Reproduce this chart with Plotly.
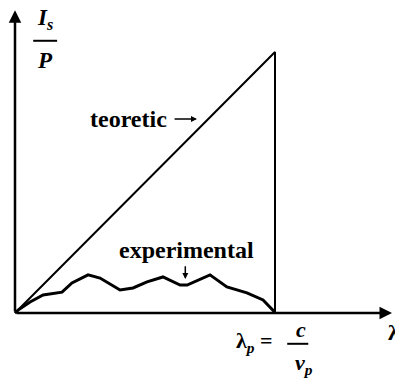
import plotly.graph_objects as go

# Normalised wavelength (lambda / lambda_p) and normalised intensity (I_s / P)
theory_x = [0.0, 1.0, 1.0]
theory_y = [0.0, 1.0, 0.0]

exp_x = [0.0, 0.012, 0.058, 0.108, 0.181, 0.219, 0.281, 0.327, 0.404, 0.454,
         0.508, 0.569, 0.635, 0.662, 0.750, 0.815, 0.892, 0.954, 0.992, 1.0]
exp_y = [0.0, 0.011, 0.042, 0.069, 0.080, 0.115, 0.146, 0.134, 0.088, 0.096,
         0.119, 0.138, 0.107, 0.107, 0.146, 0.100, 0.077, 0.050, 0.011, 0.0]

X_MAX = 1.45
Y_MAX = 1.16

FONT = "Liberation Serif"
ink = "black"

fig = go.Figure()
fig.add_trace(go.Scatter(x=theory_x, y=theory_y, mode="lines",
                         line=dict(color=ink, width=2), hoverinfo="skip"))
fig.add_trace(go.Scatter(x=exp_x, y=exp_y, mode="lines",
                         line=dict(color=ink, width=3), hoverinfo="skip"))


def arrow(x0, y0, x1, y1, width=2.5, size=1.0):
    return dict(x=x1, y=y1, ax=x0, ay=y0, xref="x", yref="y", axref="x", ayref="y",
                showarrow=True, arrowhead=2, arrowsize=size, arrowwidth=width,
                arrowcolor=ink, text="")


def label(x, y, text, size=24, **kw):
    return dict(x=x, y=y, xref="x", yref="y", showarrow=False, text=text,
                font=dict(family=FONT, size=size, color=ink), **kw)


ann = [
    # axes
    arrow(0, 0, X_MAX, 0),
    arrow(0, 0, 0, Y_MAX),
    # axis titles
    label(0.115, 1.125, "<b><i>I<sub>s</sub></i></b>", size=23),
    label(0.115, 0.968, "<b><i>P</i></b>", size=23),
    label(1.425, -0.075, "<b>\u03bb</b>", size=22, xanchor="left"),
    # curve labels
    label(0.438, 0.745, "<b>teoretic</b>"),
    arrow(0.608, 0.743, 0.70, 0.743, width=1.5, size=0.8),
    label(0.66, 0.241, "<b>experimental</b>"),
    arrow(0.655, 0.185, 0.655, 0.13, width=1.5, size=0.8),
    # lambda_p = c / nu_p
    label(0.92, -0.11, "<b>\u03bb<sub><i>p</i></sub> =</b>", size=22),
    label(1.1, -0.065, "<b><i>c</i></b>", size=22),
    label(1.11, -0.195, "<b><i>\u03bd<sub>p</sub></i></b>", size=22),
]

shapes = [
    dict(type="line", xref="x", yref="y", x0=0.07, x1=0.162, y0=1.043, y1=1.043,
         line=dict(color=ink, width=2)),
    dict(type="line", xref="x", yref="y", x0=1.047, x1=1.128, y0=-0.118, y1=-0.118,
         line=dict(color=ink, width=2)),
]

fig.update_layout(
    width=395, height=378,
    margin=dict(l=0, r=0, t=0, b=0),
    paper_bgcolor="white", plot_bgcolor="white",
    showlegend=False,
    xaxis=dict(range=[-15 / 260, 380 / 260], visible=False, fixedrange=True),
    yaxis=dict(range=[-65 / 261, 313 / 261], visible=False, fixedrange=True),
    annotations=ann, shapes=shapes,
)

fig.write_html("out.html")
